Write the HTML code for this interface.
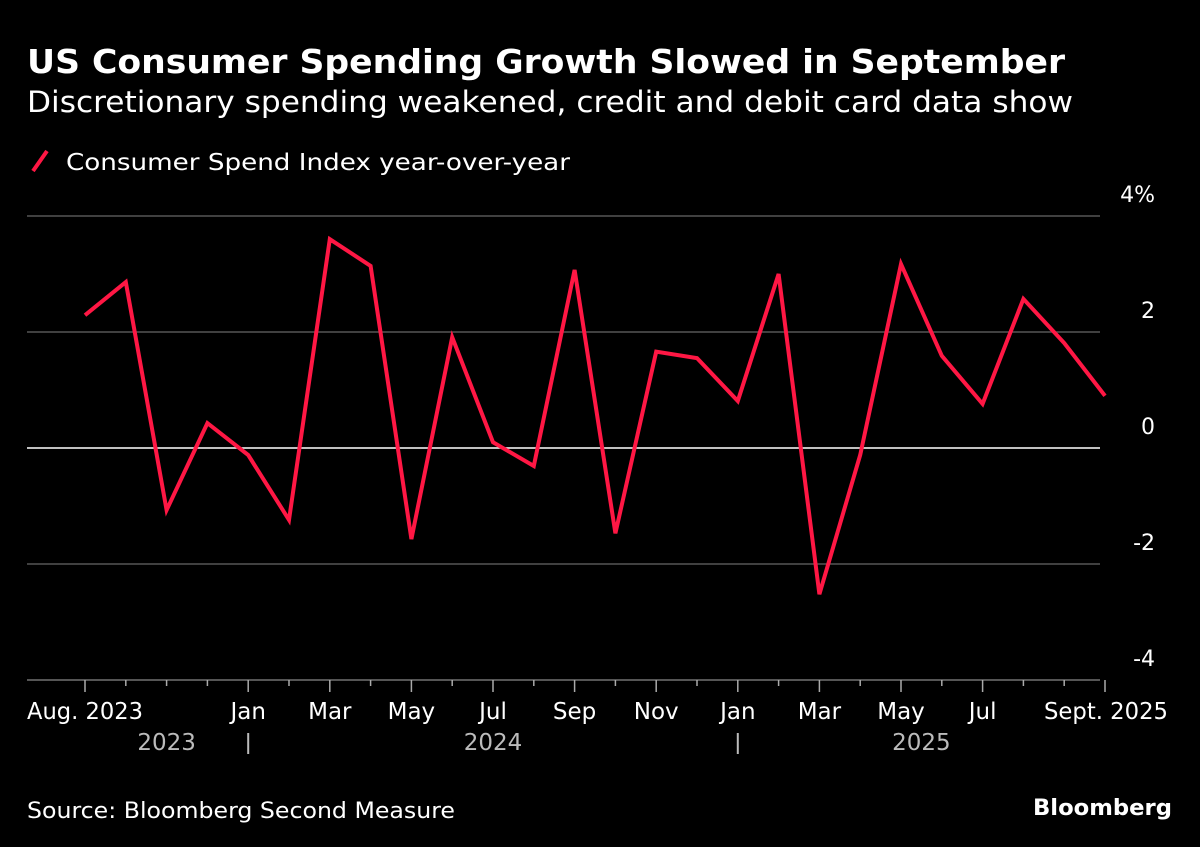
<!DOCTYPE html>
<html><head><meta charset="utf-8"><style>
body{margin:0;background:#000;width:1200px;height:847px;overflow:hidden;font-family:"DejaVu Sans","Liberation Sans",sans-serif;color:#fff}
svg{position:absolute;left:0;top:0}
</style></head><body>
<svg width="1200" height="847">
<text x="27" y="73" font-size="33" font-weight="bold" fill="#fff" textLength="1038" lengthAdjust="spacingAndGlyphs">US Consumer Spending Growth Slowed in September</text>
<text x="27" y="112" font-size="29" fill="#fff" textLength="1046" lengthAdjust="spacingAndGlyphs">Discretionary spending weakened, credit and debit card data show</text>
<line x1="33" y1="171" x2="47" y2="151" stroke="#ff1744" stroke-width="4"/>
<text x="66" y="170" font-size="23" fill="#fff" textLength="504" lengthAdjust="spacingAndGlyphs">Consumer Spend Index year-over-year</text>
<g id="grid"></g><g id="xaxis"></g>
<path id="line" fill="none" stroke="#ff1744" stroke-width="4" stroke-linejoin="miter"/>
<text x="27" y="818" font-size="22" fill="#fff" textLength="428" lengthAdjust="spacingAndGlyphs">Source: Bloomberg Second Measure</text>
<text x="1033" y="815" font-size="22" font-weight="bold" fill="#fff" textLength="139" lengthAdjust="spacingAndGlyphs">Bloomberg</text>
</svg>
<script>
const values=[2.29,2.86,-1.07,0.43,-0.12,-1.24,3.6,3.14,-1.57,1.91,0.10,-0.31,3.07,-1.47,1.66,1.55,0.81,3.0,-2.52,-0.12,3.17,1.59,0.76,2.57,1.81,0.90];
const yTicks=[4,2,0,-2,-4];
const yTickLabels=["4%","2","0","-2","-4"];
const xTickIdx=[0,4,6,8,10,12,14,16,18,20,22,25];
const xTickLabels=["Aug. 2023","Jan","Mar","May","Jul","Sep","Nov","Jan","Mar","May","Jul","Sept. 2025"];
const yearLabels=["2023","2024","2025"];
const ns="http://www.w3.org/2000/svg";
const N=values.length;
const x=i=>85+i*(1020/(N-1));
const y=v=>448-v*58;
function mk(tag,attrs,parent,txt){const e=document.createElementNS(ns,tag);for(const k in attrs)e.setAttribute(k,attrs[k]);if(txt!==undefined)e.textContent=txt;parent.appendChild(e);return e;}
const grid=document.getElementById('grid');
yTicks.forEach((t,i)=>{
 const l=mk('line',{x1:27,x2:1100,y1:y(t),y2:y(t),stroke:t===0?'#fff':(t===-4?'#888':'#666'),'stroke-width':t===0?1.5:1.2},grid);
 
 
 const tx=mk('text',{x:1155,y:y(t)-14,'font-size':22,fill:'#fff','text-anchor':'end'},grid,yTickLabels[i]);
 
 
});
const xa=document.getElementById('xaxis');
const base=y(-4);
for(let i=0;i<N;i++){
 const major=xTickIdx.includes(i);
 const t=mk('line',{x1:x(i),x2:x(i),y1:base,y2:base+(major?12:6),stroke:'#aaa','stroke-width':1.5},xa);
 
 
}
xTickIdx.forEach((idx,k)=>{
 const first=k===0,last=k===xTickIdx.length-1;
 const attrs={x:first?27:(last?1168:x(idx)),y:719,'font-size':23,fill:'#fff','text-anchor':first?'start':(last?'end':'middle')};
 if(first||last){attrs.textLength=first?116:(1168-1044);attrs.lengthAdjust='spacingAndGlyphs';}
 const t=mk('text',attrs,xa,xTickLabels[k]);
 
 
});
const yearX=[x(2),x(10),x(20.5)];
yearLabels.forEach((s,k)=>{
 const t=mk('text',{x:yearX[k],y:750,'font-size':23,fill:'#bbb','text-anchor':'middle'},xa,s);
 
 
});
[4,16].forEach(i=>{
 const s=mk('line',{x1:x(i),x2:x(i),y1:733,y2:754,stroke:'#bbb','stroke-width':2},xa);
 
 
});
let d='';
for(let i=0;i<N;i++){d+=(i?'L':'M')+x(i).toFixed(1)+','+y(values[i]).toFixed(1);}
document.getElementById('line').setAttribute('d',d);
</script>
</body></html>
